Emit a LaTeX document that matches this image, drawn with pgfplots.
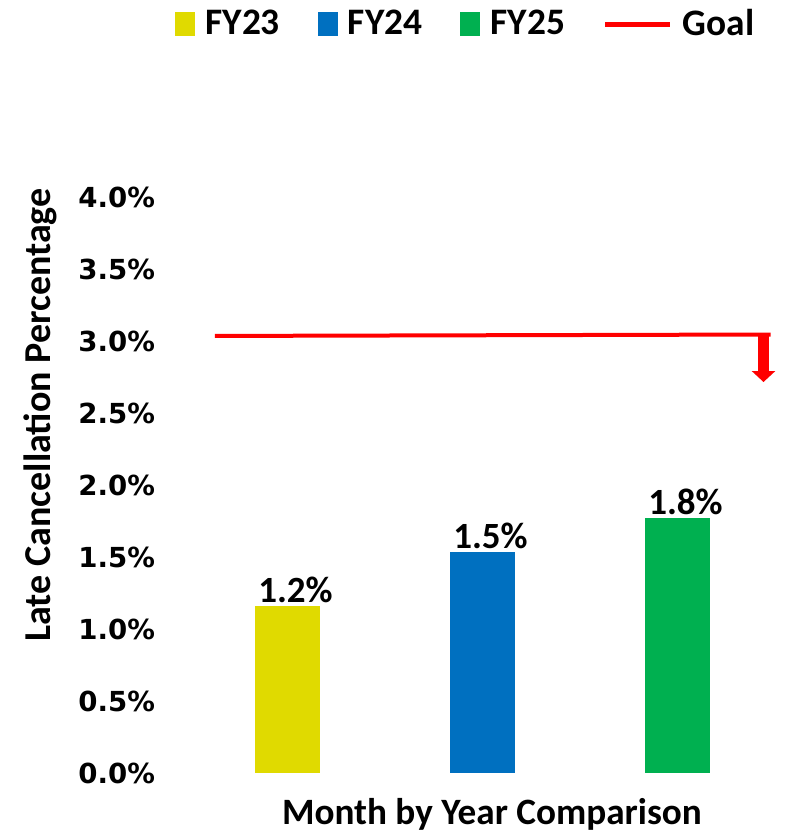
\documentclass[border=0pt]{standalone}
\usepackage{pgfplots}
\pgfplotsset{compat=1.18}
\usepackage{fontspec}
\setmainfont{Carlito}
\newfontfamily\tickfont{DejaVu Sans}
\usetikzlibrary{arrows.meta}
\definecolor{cyel}{RGB}{224,218,0}
\definecolor{cblue}{RGB}{0,112,192}
\definecolor{cgreen}{RGB}{0,176,80}
\begin{document}
\begin{tikzpicture}
\begin{axis}[
  scale only axis,
  width=292.5pt, height=288pt,
  xmin=-0.5, xmax=2.5,
  ymin=0, ymax=4,
  axis line style={draw=none},
  major tick length=0pt,
  xtick=\empty,
  ytick={0,0.5,...,4},
  /pgf/number format/assume math mode=true,
  yticklabel={\pgfmathprintnumber[fixed,fixed zerofill,precision=1]{\tick}\%},
  yticklabel style={font=\tickfont\bfseries\fontsize{13.8}{16}\selectfont, xshift=-14pt},
  ylabel={Late Cancellation Percentage},
  ylabel style={font=\bfseries\fontsize{19}{22}\selectfont, inner sep=0pt, at={(axis description cs:-0.255,0.6215)}, anchor=center},
  xlabel={Month by Year Comparison},
  xlabel style={font=\bfseries\fontsize{18.6}{22}\selectfont, inner sep=0pt, at={(axis description cs:0.516,-0.09)}, anchor=base},
  ybar, bar width=32.5pt, bar shift=0pt,
  nodes near coords={\pgfmathprintnumber[fixed,fixed zerofill,precision=1]{\pgfplotspointmeta}\%},
  every node near coord/.append style={font=\bfseries\fontsize{18.5}{20}\selectfont, inner sep=1.5pt, xshift=4pt, black},
  legend columns=4,
  legend style={draw=none, at={(axis description cs:0.47,1.30)}, anchor=center,
    font=\bfseries\fontsize{18.7}{22}\selectfont,
    nodes={inner sep=0pt},
    /tikz/every odd column/.append style={column sep=5pt},
    /tikz/every even column/.append style={column sep=19pt}},
  clip=false,
]
\addplot[fill=cyel, draw=none, legend image code/.code={\fill[cyel] (0pt,-6pt) rectangle (10pt,6pt);}] coordinates {(0,1.16)};
\addlegendentry{FY23}
\addplot[fill=cblue, draw=none, legend image code/.code={\fill[cblue] (0pt,-6pt) rectangle (10pt,6pt);}] coordinates {(1,1.535)};
\addlegendentry{FY24}
\addplot[fill=cgreen, draw=none, legend image code/.code={\fill[cgreen] (0pt,-6pt) rectangle (10pt,6pt);}] coordinates {(2,1.77)};
\addlegendentry{FY25}
\addplot[sharp plot, red, line width=2pt, nodes near coords={}, legend image code/.code={\draw[red, line width=2.5pt] (0pt,0pt) -- (32.5pt,0pt);}] coordinates {(-0.372,3.035) (2.478,3.045)};
\addlegendentry{Goal}
\draw[red, line width=5.5pt, -{Triangle[width=11.5pt,length=5.5pt]}] (axis cs:2.441,3.045) -- (axis cs:2.441,2.715);
\coordinate (bbl) at (rel axis cs:-0.3248,-0.1059);
\coordinate (btr) at (rel axis cs:1.0239,1.342);
\end{axis}
\pgfresetboundingbox
\path (bbl) rectangle (btr);
\end{tikzpicture}
\end{document}
